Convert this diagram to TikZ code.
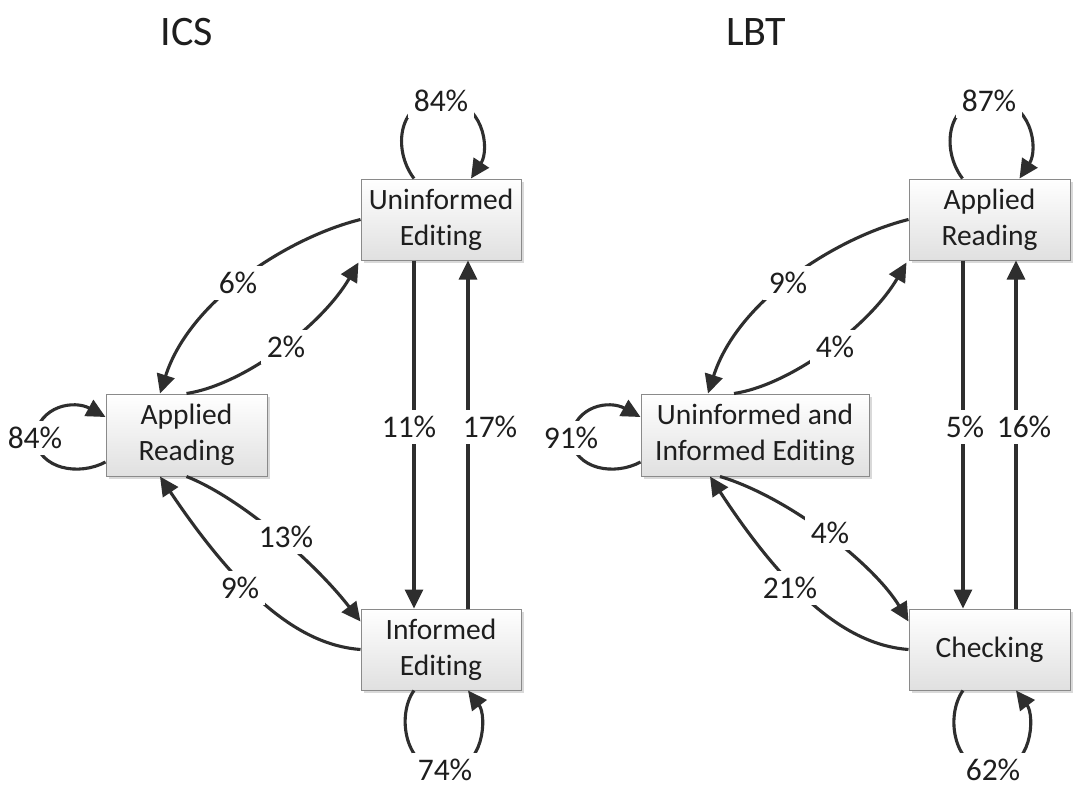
\documentclass[tikz,border=0pt]{standalone}
\usepackage{fontspec}
\setmainfont{Carlito}[Ligatures={NoCommon,NoRequired,NoContextual}]
\usetikzlibrary{arrows.meta,calc,shadows}
\definecolor{txt}{HTML}{1E1E1E}
\definecolor{lnc}{HTML}{2E2E2E}
\definecolor{bord}{HTML}{8A8A8A}
\definecolor{bmid}{HTML}{F6F6F6}
\definecolor{bbot}{HTML}{E0E0E0}
\begin{document}
\begin{tikzpicture}[x=1pt,y=-1pt,
  state/.style={draw=bord, line width=1pt, top color=white, middle color=bmid, bottom color=bbot,
    drop shadow={shadow xshift=2.5pt, shadow yshift=-2.5pt, fill=black, opacity=0.15},
    align=center, inner sep=0pt, minimum height=81pt, text=txt,
    font=\fontsize{29.5}{36}\selectfont},
  pct/.style={fill=white, inner sep=6pt, text=txt, font=\fontsize{31.5}{31.5}\selectfont},
  ttl/.style={text=txt, font=\fontsize{42}{42}\selectfont},
  conn/.style={draw=lnc, line width=3.1pt, -{Triangle[length=19pt,width=18pt]}}]
\fill[white] (0,0) rectangle (1073,788);
\useasboundingbox (0,0) rectangle (1073,788);

% titles
\node[ttl] (tICS) at (187,32) {ICS};
\node[ttl] (tLBT) at (756,32) {LBT};

% ICS states
\node[state, minimum width=160pt] (ue) at (441,219.5) {Uninformed\\Editing};
\node[state, minimum width=161pt, minimum height=82pt] (ar) at (186.5,435) {Applied\\Reading};
\node[state, minimum width=160pt] (ie) at (441,649.5) {Informed\\Editing};

% LBT states
\node[state, minimum width=161pt] (ar2) at (989.5,219.5) {Applied\\Reading};
\node[state, minimum width=228pt, minimum height=82pt] (uie) at (755,435) {Uninformed and\\Informed Editing};
\node[state, minimum width=161pt] (ch) at (989.5,649.5) {Checking};

% ICS connectors
\draw[conn] ($(ue.north)+(-27,0)$) .. controls +(-22,-29) and +(-43,0) .. ($(ue.north)+(0,-79)$)
  .. controls +(43,0) and +(19,-29) .. ($(ue.north)+(30,0)$);
\draw[conn] (ue.west) .. controls +(-71,17.5) and +(30,-94) .. ($(ar.north)+(-26.5,0)$);
\draw[conn] (ar.north) .. controls +(58.5,-9) and +(-36,62) .. ($(ue.south west)+(-2,2)$);
\draw[conn] ($(ue.south)+(-27,0)$) -- ($(ie.north)+(-27,0)$);
\draw[conn] ($(ie.north)+(27,0)$) -- ($(ue.south)+(27,0)$);
\draw[conn] (ar.south) .. controls +(53.5,21) and +(-46,-59.5) .. ($(ie.west)+(0,-28)$);
\draw[conn] (ie.west) .. controls +(-61,-4.5) and +(80,119) .. ($(ar.south)+(-26.5,0)$);
\draw[conn] ($(ar.west)+(0,27)$) .. controls +(-26,14) and +(5,32) .. ($(ar.west)+(-71,3)$)
  .. controls +(5,-33) and +(-31,-17) .. ($(ar.west)+(0,-18)$);
\draw[conn] ($(ie.south)+(-27,0)$) .. controls +(-18,25) and +(-40,0) .. ($(ie.south)+(4,80)$)
  .. controls +(40,0) and +(19,25) .. ($(ie.south)+(27,0)$);

% LBT connectors
\draw[conn] ($(ar2.north)+(-27,0)$) .. controls +(-22,-29) and +(-43,0) .. ($(ar2.north)+(0,-79)$)
  .. controls +(43,0) and +(19,-29) .. ($(ar2.north)+(30,0)$);
\draw[conn] (ar2.west) .. controls +(-71,17.5) and +(30,-94) .. ($(uie.north)+(-47,0)$);
\draw[conn] ($(uie.north)+(-21,0)$) .. controls +(58.5,-9) and +(-36,62) .. ($(ar2.south west)+(-2,2)$);
\draw[conn] ($(ar2.south)+(-26.5,0)$) -- ($(ch.north)+(-26.5,0)$);
\draw[conn] ($(ch.north)+(26.5,0)$) -- ($(ar2.south)+(26.5,0)$);
\draw[conn] ($(uie.south)+(-35,0)$) .. controls +(70,21) and +(-34,-56.5) .. ($(ch.west)+(0,-28)$);
\draw[conn] (ch.west) .. controls +(-61,-4.5) and +(78,119) .. ($(uie.south)+(-45,0)$);
\draw[conn] ($(uie.west)+(0,27)$) .. controls +(-26,14) and +(5,32) .. ($(uie.west)+(-70,3)$)
  .. controls +(5,-33) and +(-31,-17) .. ($(uie.west)+(0,-18)$);
\draw[conn] ($(ch.south)+(-26.5,0)$) .. controls +(-18,25) and +(-40,0) .. ($(ch.south)+(3.5,80)$)
  .. controls +(40,0) and +(19,25) .. ($(ch.south)+(26.5,0)$);

% ICS labels
\node[pct] (p1) at (441,101) {84\%};
\node[pct] (p2) at (238,283) {6\%};
\node[pct] (p3) at (286,347) {2\%};
\node[pct] (p4) at (409,427) {11\%};
\node[pct] (p5) at (490,427) {17\%};
\node[pct] (p6) at (35,438) {84\%};
\node[pct] (p7) at (286,537) {13\%};
\node[pct] (p8) at (240,588) {9\%};
\node[pct] (p9) at (445,770) {74\%};

% LBT labels
\node[pct] (q1) at (989,101) {87\%};
\node[pct] (q2) at (788,283) {9\%};
\node[pct] (q3) at (835,347) {4\%};
\node[pct] (q4) at (965,427) {5\%};
\node[pct] (q5) at (1024,427) {16\%};
\node[pct] (q6) at (571,438) {91\%};
\node[pct] (q7) at (830,533) {4\%};
\node[pct] (q8) at (790,588) {21\%};
\node[pct] (q9) at (993,770) {62\%};
\end{tikzpicture}
\end{document}
